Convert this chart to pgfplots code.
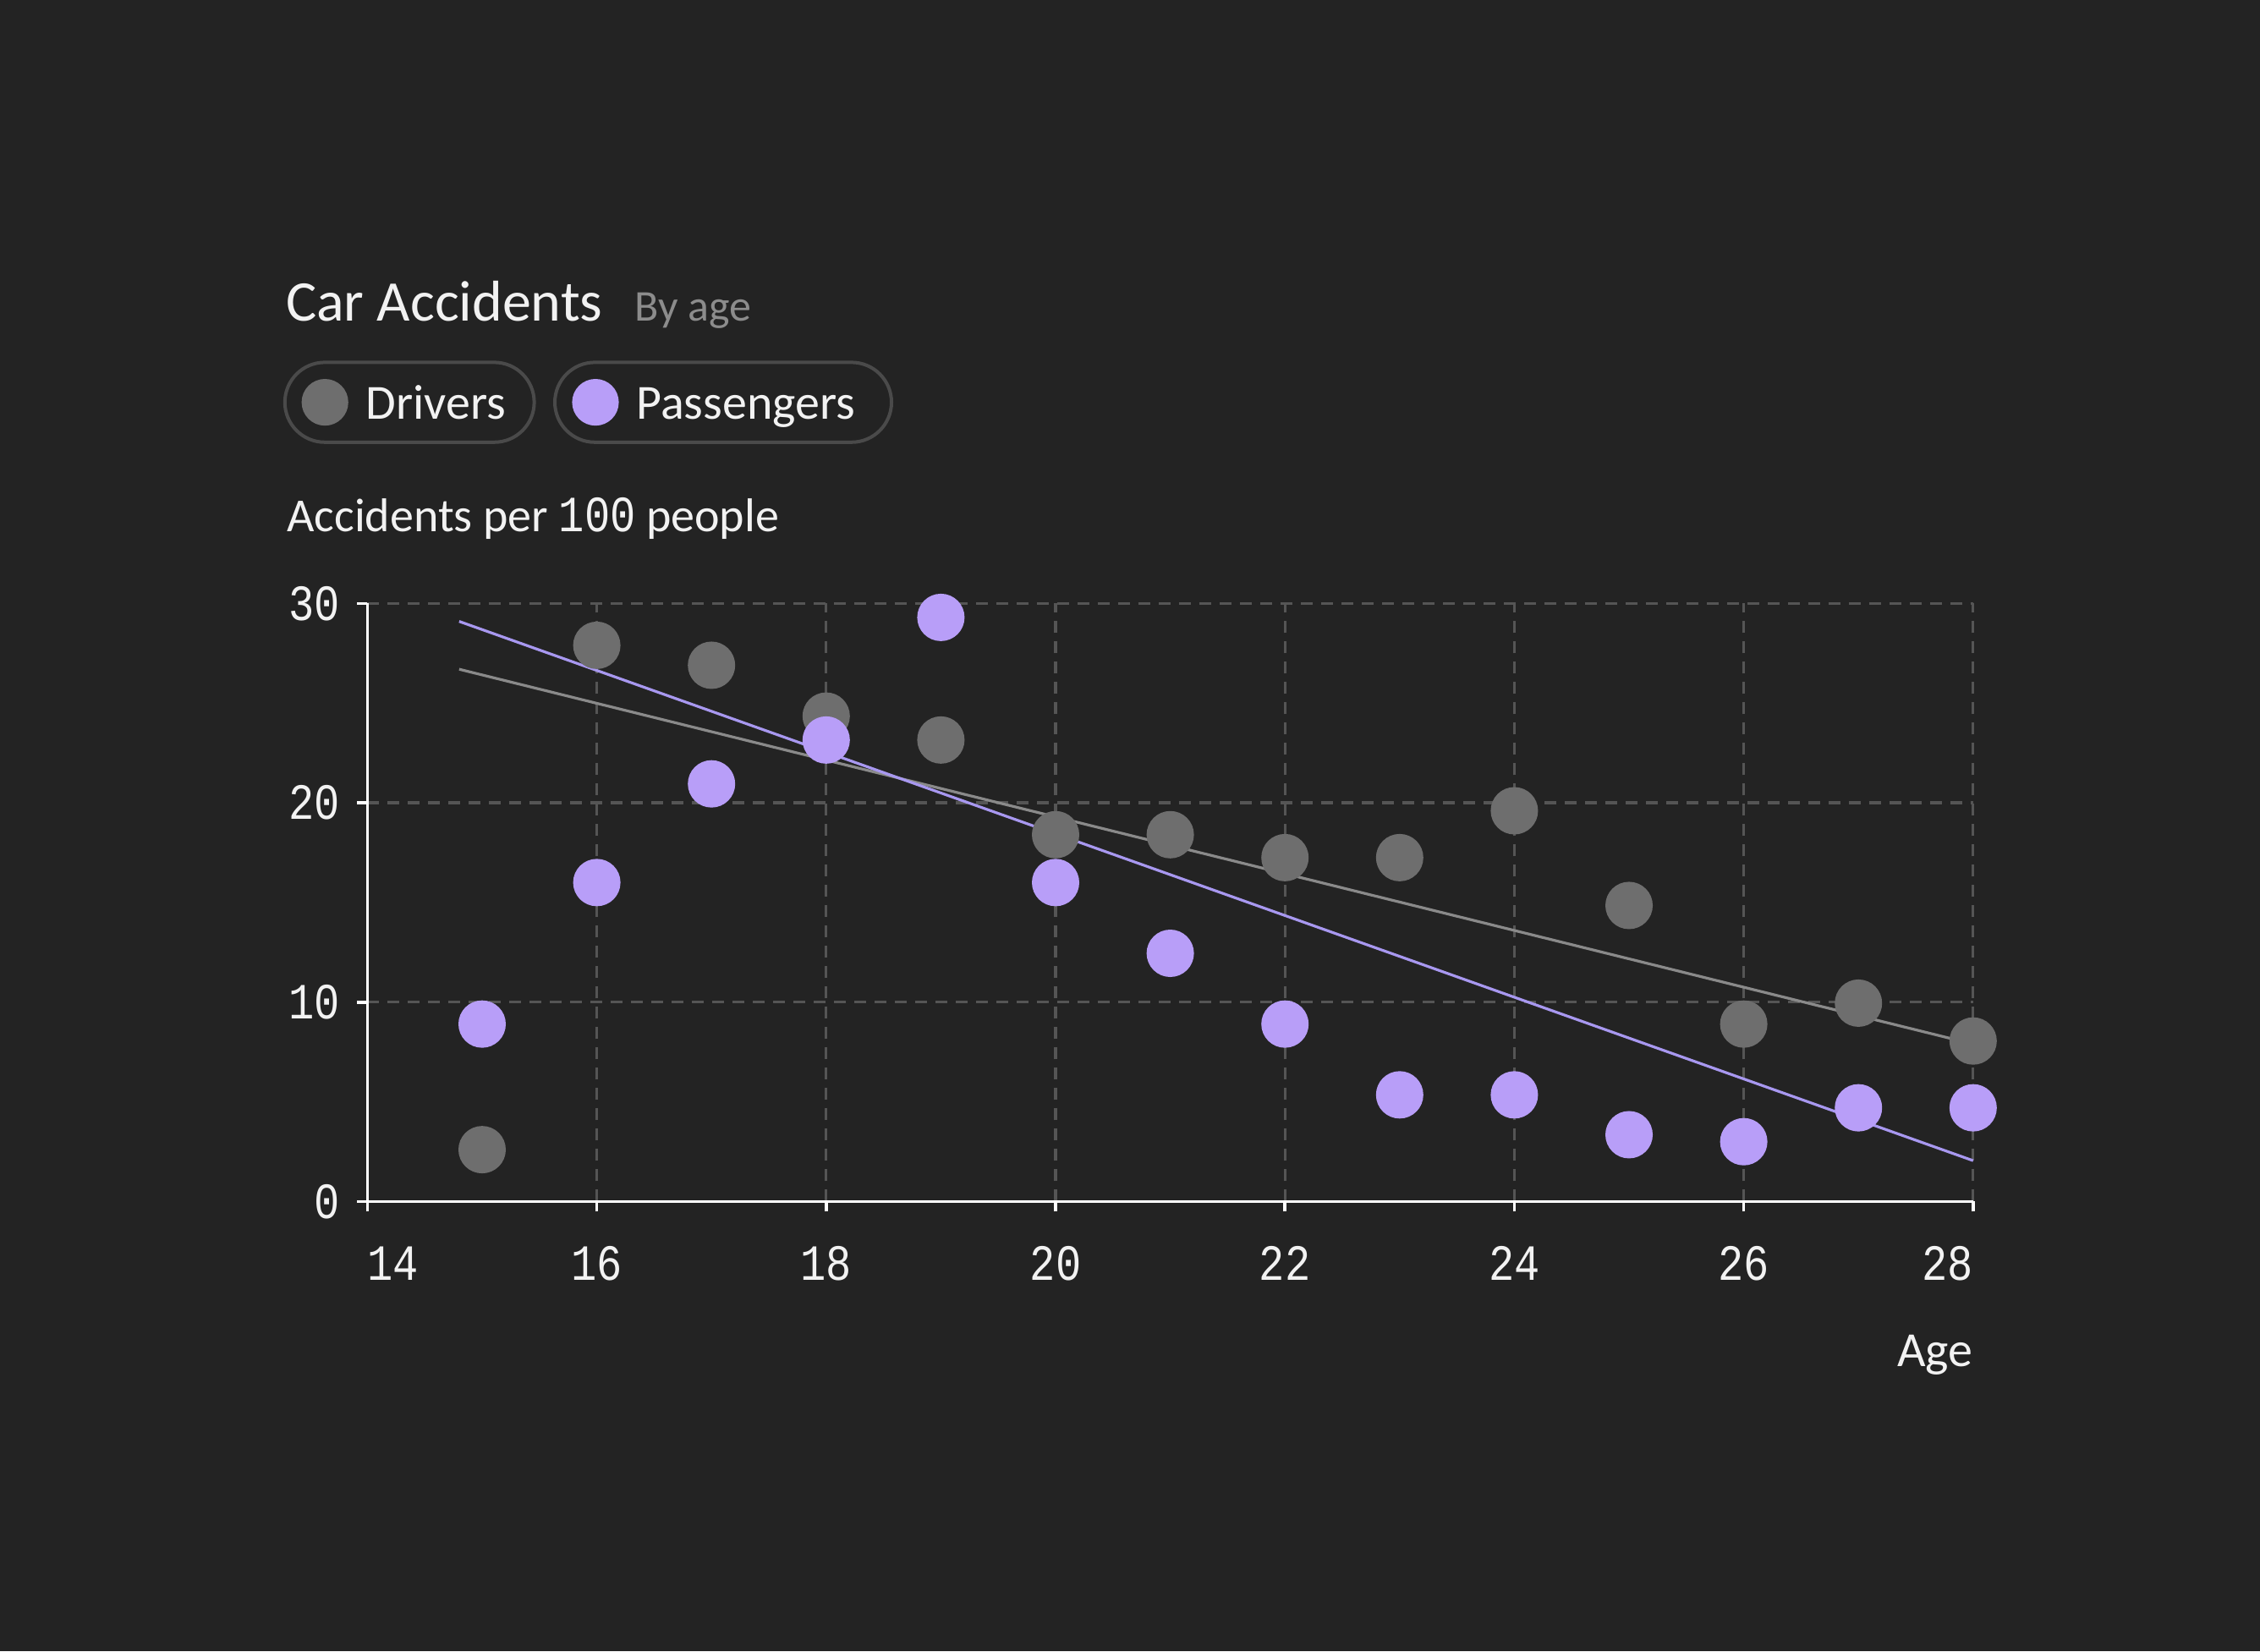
\documentclass[border=0pt]{standalone}
\usepackage{fontspec}
\setmainfont{Carlito}
\newfontfamily\monofont[FakeStretch=0.84]{Liberation Mono}
\usepackage{pgfplots}
\pgfplotsset{compat=1.18}
\definecolor{bg}{HTML}{232323}
\definecolor{titlec}{HTML}{F2F2F2}
\definecolor{subc}{HTML}{8C8C8C}
\definecolor{pillc}{HTML}{4A4A4A}
\definecolor{gridc}{HTML}{555555}
\definecolor{drvc}{HTML}{6E6E6E}
\definecolor{pasc}{HTML}{B89EF8}
\definecolor{drvline}{HTML}{8A8A8A}
\definecolor{pasline}{HTML}{A898F0}

\pgfplotstableread{
x y
15 2.6
16 27.9
17 26.9
18 24.35
19 23.15
20 18.4
21 18.4
22 17.25
23 17.25
24 19.6
25 14.85
26 8.9
27 9.95
28 8.05
}\drivers

\pgfplotstableread{
x y
15 8.9
16 16.0
17 20.95
18 23.15
19 29.3
20 16.0
21 12.45
22 8.9
23 5.35
24 5.35
25 3.35
26 3.0
27 4.7
28 4.7
}\passengers

\begin{document}
\begin{tikzpicture}
\fill[bg] (0,0) rectangle (668pt,488pt);
\useasboundingbox (0,0) rectangle (668pt,488pt);

\node[anchor=base west, inner sep=0pt, text=titlec, font=\fontsize{17}{20}\selectfont] at (84.3pt,393pt) {Car Accidents};
\node[anchor=base west, inner sep=0pt, text=subc, font=\fontsize{13}{16}\selectfont] at (187.4pt,393pt) {By age};

\draw[pillc, line width=1pt, fill=bg, rounded corners=11.8pt] (84.2pt,357.3pt) rectangle (157.9pt,380.9pt);
\draw[pillc, line width=1pt, fill=bg, rounded corners=11.8pt] (164pt,357.3pt) rectangle (263.5pt,380.9pt);
\fill[drvc] (96.05pt,369.1pt) circle (6.9pt);
\fill[pasc] (176pt,369.1pt) circle (6.9pt);
\node[anchor=base west, inner sep=0pt, text=titlec, font=\fontsize{14.5}{17}\selectfont] at (107.9pt,364.2pt) {Drivers};
\node[anchor=base west, inner sep=0pt, text=titlec, font=\fontsize{14.5}{17}\selectfont] at (187.9pt,364.2pt) {Passengers};

\node[anchor=base west, inner sep=0pt, text=titlec, font=\fontsize{14}{17}\selectfont] at (84.6pt,330.9pt) {Accidents per {\monofont\fontsize{15}{17}\selectfont 100} people};
\node[anchor=base east, inner sep=0pt, text=titlec, font=\fontsize{14.5}{17}\selectfont] at (583.3pt,84.1pt) {Age};

\begin{axis}[
  scale only axis,
  width=474.6pt, height=176.75pt,
  at={(108.6pt,132.9pt)}, anchor=south west,
  xmin=14, xmax=28, ymin=0, ymax=30,
  clip=false,
  axis x line*=bottom, axis y line*=left,
  axis line style={white, line width=0.95pt, -},
  xtick={14,16,...,28}, ytick={0,10,20,30},
  xticklabels={\makebox[0pt][l]{14},16,18,20,22,24,26,\makebox[0pt][r]{28}},
  yticklabels={0,10,20,30},
  grid=major,
  major grid style={gridc, line width=0.8pt, dash pattern=on 3.5pt off 2.5pt},
  tick style={white, line width=0.9pt},
  tick align=outside, major tick length=3pt,
  ticklabel style={font=\monofont\fontsize{15}{17}\selectfont, text=titlec},
  xticklabel style={anchor=base, inner sep=0pt, yshift=-20.2pt},
  yticklabel style={anchor=east, inner sep=0pt, xshift=-5pt},
]
\addplot[drvline, line width=0.8pt] coordinates {(14.8,26.7) (28,7.9)};
\addplot[pasline, line width=0.8pt] coordinates {(14.8,29.1) (28,2.05)};
\addplot[only marks, color=drvc, mark=*, mark size=6.8pt, mark options={solid, draw=drvc, fill=drvc, line width=0.4pt}] table[x=x,y=y] {\drivers};
\addplot[only marks, color=pasc, mark=*, mark size=6.8pt, mark options={solid, draw=pasc, fill=pasc, line width=0.4pt}] table[x=x,y=y] {\passengers};
\end{axis}
\end{tikzpicture}
\end{document}
